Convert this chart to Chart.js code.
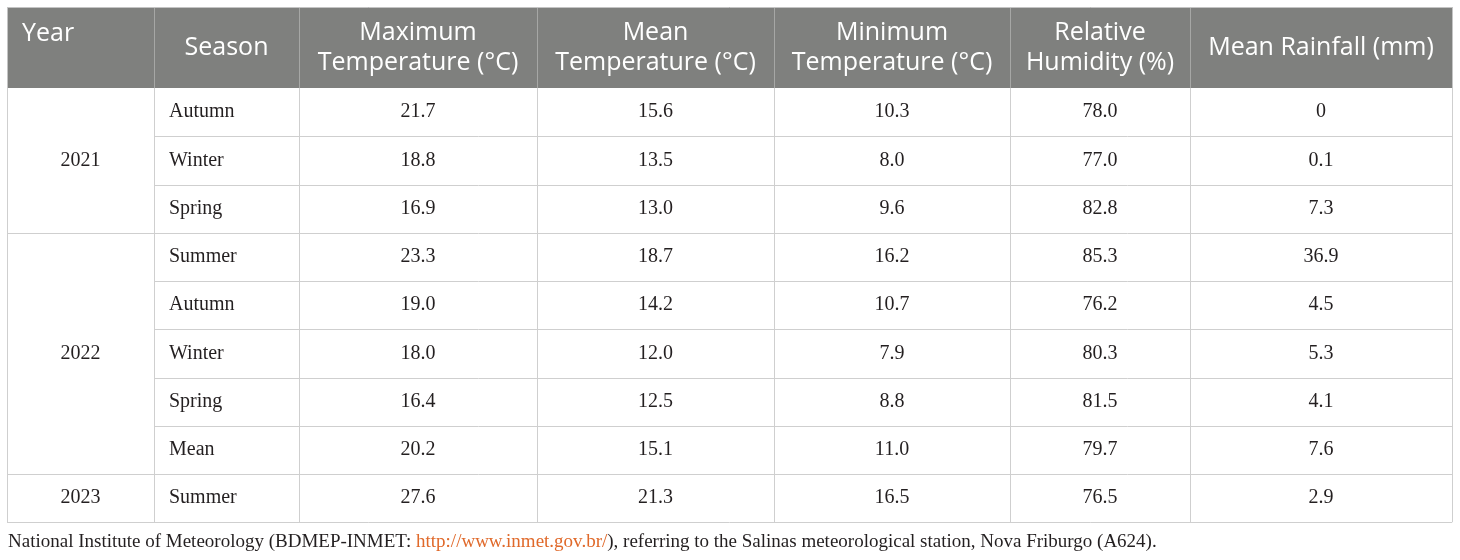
<!DOCTYPE html>
<html><head><meta charset="utf-8">
<script src="https://cdn.jsdelivr.net/npm/chart.js@4.4.1/dist/chart.umd.min.js"></script>
<style>html,body{margin:0;padding:0;background:#fff}#wrap{width:1460px;height:560px;position:relative}</style>
</head><body><div id="wrap"><canvas id="c"></canvas></div>
<script>
// ---- data ----
const headers = [['Year'], ['Season'], ['Maximum', 'Temperature (°C)'], ['Mean', 'Temperature (°C)'], ['Minimum', 'Temperature (°C)'], ['Relative', 'Humidity (%)'], ['Mean Rainfall (mm)']];
const years = ['2021', '2022', '2023'];
const yearSpans = [3, 5, 1];
const seasons = ['Autumn', 'Winter', 'Spring', 'Summer', 'Autumn', 'Winter', 'Spring', 'Mean', 'Summer'];
const maxTemp = [21.7, 18.8, 16.9, 23.3, 19.0, 18.0, 16.4, 20.2, 27.6];
const meanTemp = [15.6, 13.5, 13.0, 18.7, 14.2, 12.0, 12.5, 15.1, 21.3];
const minTemp = [10.3, 8.0, 9.6, 16.2, 10.7, 7.9, 8.8, 11.0, 16.5];
const humidity = [78.0, 77.0, 82.8, 85.3, 76.2, 80.3, 81.5, 79.7, 76.5];
const rainfall = [0, 0.1, 7.3, 36.9, 4.5, 5.3, 4.1, 7.6, 2.9];
const noteParts = ['National Institute of Meteorology (BDMEP-INMET: ', 'http://www.inmet.gov.br/', '), referring to the Salinas meteorological station, Nova Friburgo (A624).'];

// ---- layout (scale units) ----
const colEdges = [7, 154, 299, 537, 774, 1010, 1190, 1452];
const headTop = 7, headBottom = 88, rowH = 48.25;
const fmt = v => (v === 0 ? '0' : v.toFixed(1));

const tablePlugin = {
  id: 'table',
  afterDraw(chart) {
    const ctx = chart.ctx, xs = chart.scales.x, ys = chart.scales.y;
    const X = v => xs.getPixelForValue(v), Y = v => ys.getPixelForValue(v);
    const nRows = seasons.length;
    const bodyBottom = headBottom + rowH * nRows;
    ctx.save();
    // header background
    ctx.fillStyle = '#7f807e';
    ctx.fillRect(X(colEdges[0]), Y(headTop), X(colEdges[7]) - X(colEdges[0]), Y(headBottom) - Y(headTop));
    // header separators
    ctx.strokeStyle = '#a6a7a5'; ctx.lineWidth = 1;
    for (let c = 1; c < colEdges.length - 1; c++) {
      ctx.beginPath(); ctx.moveTo(Math.round(X(colEdges[c])) + 0.5, Y(headTop)); ctx.lineTo(Math.round(X(colEdges[c])) + 0.5, Y(headBottom)); ctx.stroke();
    }
    // body grid
    ctx.strokeStyle = '#cfcfcf';
    const hline = (x0, x1, y) => { const yy = Math.round(Y(y)) + 0.5; ctx.beginPath(); ctx.moveTo(X(x0), yy); ctx.lineTo(X(x1), yy); ctx.stroke(); };
    const vline = (x, y0, y1) => { const xx = Math.round(X(x)) + 0.5; ctx.beginPath(); ctx.moveTo(xx, Y(y0)); ctx.lineTo(xx, Y(y1)); ctx.stroke(); };
    for (let r = 1; r < nRows; r++) hline(colEdges[1], colEdges[7], headBottom + r * rowH);
    let acc = 0;
    yearSpans.forEach(s => { acc += s; if (acc < nRows) hline(colEdges[0], colEdges[1], headBottom + acc * rowH); });
    hline(colEdges[0], colEdges[7], bodyBottom);
    for (let c = 0; c < colEdges.length; c++) vline(colEdges[c], headBottom, bodyBottom);
    // outer header border
    ctx.strokeStyle = '#c4c4c4';
    hline(colEdges[0], colEdges[7], headTop);
    vline(colEdges[0], headTop, headBottom); vline(colEdges[7], headTop, headBottom);

    // header text
    ctx.fillStyle = '#ffffff';
    ctx.font = '25px "Open Sans"';
    ctx.textBaseline = 'middle';
    headers.forEach((lines, c) => {
      const cx = (colEdges[c] + colEdges[c + 1]) / 2;
      if (c === 0) {
        ctx.textAlign = 'left';
        ctx.fillText(lines[0], X(colEdges[0] + 15), Y(headTop + 27));
        return;
      }
      ctx.textAlign = 'center';
      const mid = (headTop + headBottom) / 2;
      const lh = 30;
      lines.forEach((t, k) => {
        const y = mid + (k - (lines.length - 1) / 2) * lh;
        ctx.fillText(t, X(cx), Y(y));
      });
    });

    // body text
    ctx.fillStyle = '#231f20';
    ctx.font = '20px "Liberation Serif"';
    const rc = r => headBottom + (r + 0.5) * rowH;
    let start = 0;
    years.forEach((yv, i) => {
      const midR = start + yearSpans[i] / 2 - 0.5;
      ctx.textAlign = 'center';
      ctx.fillText(yv, X((colEdges[0] + colEdges[1]) / 2), Y(rc(midR)));
      start += yearSpans[i];
    });
    const cols = [maxTemp, meanTemp, minTemp, humidity, rainfall];
    for (let r = 0; r < nRows; r++) {
      ctx.textAlign = 'left';
      ctx.fillText(seasons[r], X(colEdges[1] + 15), Y(rc(r)));
      ctx.textAlign = 'center';
      cols.forEach((arr, k) => {
        const c = k + 2;
        ctx.fillText(fmt(arr[r]), X((colEdges[c] + colEdges[c + 1]) / 2), Y(rc(r)));
      });
    }
    // footnote
    ctx.font = '19px "Liberation Serif"';
    ctx.textAlign = 'left';
    let x = X(8);
    const fy = Y(542);
    const colors = ['#231f20', '#e0692a', '#231f20'];
    noteParts.forEach((t, i) => { ctx.fillStyle = colors[i]; ctx.fillText(t, x, fy); x += ctx.measureText(t).width; });
    ctx.restore();
  }
};

new Chart(document.getElementById('c'), {
  type: 'scatter',
  data: { datasets: [] },
  options: {
    responsive: true, maintainAspectRatio: false, animation: false,
    layout: { padding: 0 },
    plugins: { legend: { display: false }, tooltip: { enabled: false } },
    scales: {
      x: { type: 'linear', min: 0, max: 1460, display: false },
      y: { type: 'linear', min: 0, max: 560, reverse: true, display: false }
    }
  },
  plugins: [tablePlugin]
});
</script></body></html>
